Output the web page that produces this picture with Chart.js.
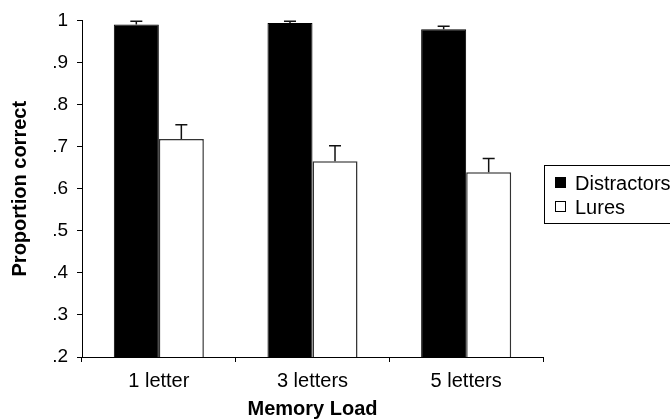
<!DOCTYPE html>
<html>
<head>
<meta charset="utf-8">
<script src="https://cdn.jsdelivr.net/npm/chart.js@4"></script>
<style>
  html, body { margin: 0; padding: 0; background: #fff; }
  #wrap { width: 670px; height: 419px; position: relative; }
</style>
</head>
<body>
<div id="wrap"><canvas id="chart"></canvas></div>
<script>
const categories = ['1 letter', '3 letters', '5 letters'];
const distractors = [0.990, 0.994, 0.979];
const distractorErr = [0.008, 0.004, 0.007];
const lures = [0.718, 0.665, 0.639];
const lureErr = [0.034, 0.037, 0.033];
const yTickLabels = ['.2', '.3', '.4', '.5', '.6', '.7', '.8', '.9', '1'];

// upward error bars with caps
const errorBars = {
    id: 'errorBars',
    afterDatasetsDraw(chart) {
        const ctx = chart.ctx;
        const y = chart.scales.y;
        ctx.save();
        ctx.strokeStyle = '#111';
        ctx.lineWidth = 1.5;
        chart.data.datasets.forEach((ds, i) => {
            const meta = chart.getDatasetMeta(i);
            meta.data.forEach((bar, j) => {
                const top = y.getPixelForValue(ds.data[j] + ds.errors[j]);
                ctx.beginPath();
                ctx.moveTo(bar.x, bar.y);
                ctx.lineTo(bar.x, top);
                ctx.moveTo(bar.x - 6, top);
                ctx.lineTo(bar.x + 6, top);
                ctx.stroke();
            });
        });
        ctx.restore();
    }
};

// boxed legend on the right
const boxLegend = {
    id: 'boxLegend',
    afterDraw(chart) {
        const ctx = chart.ctx;
        ctx.save();
        ctx.strokeStyle = '#000';
        ctx.lineWidth = 1;
        ctx.strokeRect(544.5, 165.5, 140, 58);
        ctx.font = '20px "Liberation Sans", Arial, sans-serif';
        ctx.textBaseline = 'middle';
        chart.data.datasets.forEach((ds, i) => {
            const cy = 183 + i * 24;
            ctx.fillStyle = ds.backgroundColor;
            ctx.fillRect(555, cy - 6, 11, 11);
            ctx.strokeStyle = '#000';
            ctx.strokeRect(555.5, cy - 5.5, 10, 10);
            ctx.fillStyle = '#000';
            ctx.fillText(ds.label, 575, cy + 1);
        });
        ctx.restore();
    }
};

new Chart(document.getElementById('chart'), {
    type: 'bar',
    data: {
        labels: categories,
        datasets: [
            {
                label: 'Distractors',
                data: distractors,
                errors: distractorErr,
                backgroundColor: '#000',
                borderColor: '#000',
                borderWidth: 1,
                categoryPercentage: 0.586,
                barPercentage: 1.0
            },
            {
                label: 'Lures',
                data: lures,
                errors: lureErr,
                backgroundColor: '#fff',
                borderColor: '#333',
                borderWidth: 1.5,
                categoryPercentage: 0.586,
                barPercentage: 1.0
            }
        ]
    },
    options: {
        responsive: true,
        maintainAspectRatio: false,
        animation: false,
        layout: { padding: { left: 0, top: 20, right: 127, bottom: 0 } },
        scales: {
            x: {
                afterFit: s => { s.height = 62; },
                grid: { display: true, drawOnChartArea: false, offset: true, tickLength: 5, color: '#000' },
                border: { color: '#000', width: 1 },
                ticks: { color: '#000', padding: 7, font: { family: '"Liberation Sans", Arial', size: 20 } },
                title: {
                    display: true,
                    text: 'Memory Load',
                    color: '#000',
                    padding: { top: 0, bottom: 0 },
                    font: { family: '"Liberation Sans", Arial', size: 20, weight: 'bold', lineHeight: 1 }
                }
            },
            y: {
                min: 0.2,
                max: 1,
                beginAtZero: false,
                afterFit: s => { s.width = 82; },
                grid: { display: true, drawOnChartArea: false, tickLength: 5, color: '#000' },
                border: { color: '#000', width: 1 },
                ticks: {
                    stepSize: 0.1,
                    color: '#000',
                    padding: 9,
                    font: { family: '"Liberation Sans", Arial', size: 19 },
                    callback: (v, i) => yTickLabels[i]
                },
                title: {
                    display: true,
                    text: 'Proportion correct',
                    color: '#000',
                    padding: { top: 10, bottom: 0 },
                    font: { family: '"Liberation Sans", Arial', size: 20, weight: 'bold', lineHeight: 1 }
                }
            }
        },
        plugins: {
            legend: { display: false },
            tooltip: { enabled: false }
        }
    },
    plugins: [errorBars, boxLegend]
});
</script>
</body>
</html>
